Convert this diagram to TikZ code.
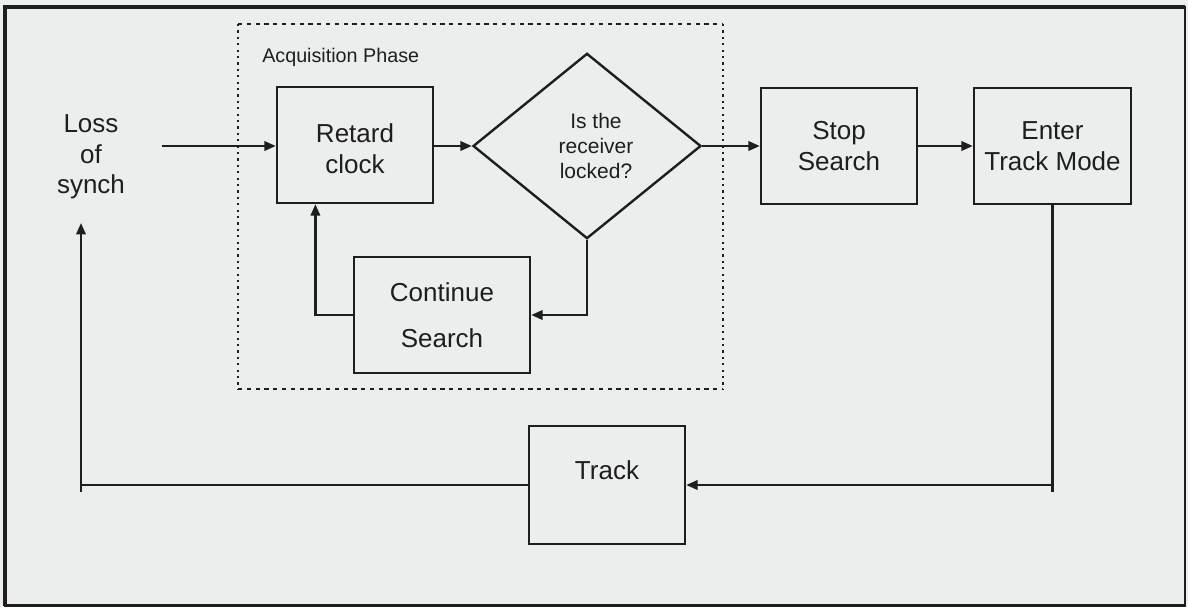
\documentclass[tikz,border=0pt]{standalone}
\usepackage{fontspec}
\setmainfont{Liberation Sans}
\usetikzlibrary{shapes.geometric,arrows.meta,calc}
\definecolor{paper}{RGB}{236,238,238}
\definecolor{ink}{RGB}{30,30,30}
\begin{document}
\begin{tikzpicture}[x=0.75pt,y=-0.75pt,
  box/.style={draw=ink, line width=1.8pt, fill=paper, inner sep=0pt},
  txt/.style={text=ink, align=center, inner sep=0pt, font=\fontsize{19.5}{22.9}\selectfont},
  small/.style={text=ink, align=center, inner sep=0pt, font=\fontsize{15.75}{18.4}\selectfont},
  flow/.style={draw=ink, line width=1.7pt, -{Triangle[length=8.5pt,width=7pt]}},
  wire/.style={draw=ink, line width=1.7pt}]
\useasboundingbox (0,0) rectangle (1188,607);
\fill[paper] (0,0) rectangle (1188,607);
% outer frame
\draw[ink, line width=1.6pt] (5,7) rectangle (1185,605.5);
\draw[ink, line width=2.4pt] (5,605.5) -- (5,7) -- (1185,7);

% acquisition phase group
\draw[ink, line width=1.9pt, dash pattern=on 3.2pt off 3.4pt] (238,24) -- (723,24) (238,389) -- (723,389);
\draw[ink, line width=2pt, dash pattern=on 1.7pt off 3.1pt] (238,24) -- (238,389) (723,24) -- (723,389);
\node[anchor=base west, text=ink, inner sep=0pt, font=\fontsize{14.8}{17}\selectfont] (phase) at (262,62) {Acquisition Phase};

% blocks
\node[box, minimum width=117pt, minimum height=87pt] (rc) at (355,145) {};
\node[txt] (rct) at (355,148.5) {Retard\\clock};
\node[box, diamond, minimum width=171pt, minimum height=139pt] (lk) at (587,146) {};
\node[small] (lkt) at (596,146) {Is the\\receiver\\locked?};
\node[box, txt, minimum width=117pt, minimum height=87pt] (ss) at (839,146) {Stop\\Search};
\node[box, txt, minimum width=117.75pt, minimum height=87pt] (et) at (1052.5,146) {Enter\\Track Mode};
\node[box, minimum width=132pt, minimum height=87pt] (cs) at (442,315) {};
\node[txt] (cst) at (442,315) {Continue\\[11.25pt]Search};
\node[box, minimum width=117pt, minimum height=88.5pt] (trk) at (607,485) {};
\node[txt] (trkt) at (607,470.5) {Track};
\node[txt] (loss) at (91,157) {Loss\\of\\synch};

% connectors
\coordinate (src) at (162,146);
\coordinate (lossin) at (81,223);
\draw[flow] (src) -- (src -| rc.west);
\draw[flow] (rc.east |- lk.west) -- (lk.west);
\draw[flow] (lk.east) -- (ss.west);
\draw[flow] (ss.east) -- (et.west);
\draw[flow] (lk.south) |- (cs.east);
\draw[flow] (cs.west) -| ($(rc.south west)!0.25!(rc.south east)$);
\draw[wire] (et.south) -- (et.south |- trk.east) -- ++(0,7);
\draw[flow] (et.south |- trk.east) -- (trk.east);
\draw[wire] (trk.west) -- (trk.west -| lossin) -- ++(0,7);
\draw[flow] (trk.west -| lossin) -- (lossin);
\end{tikzpicture}
\end{document}
